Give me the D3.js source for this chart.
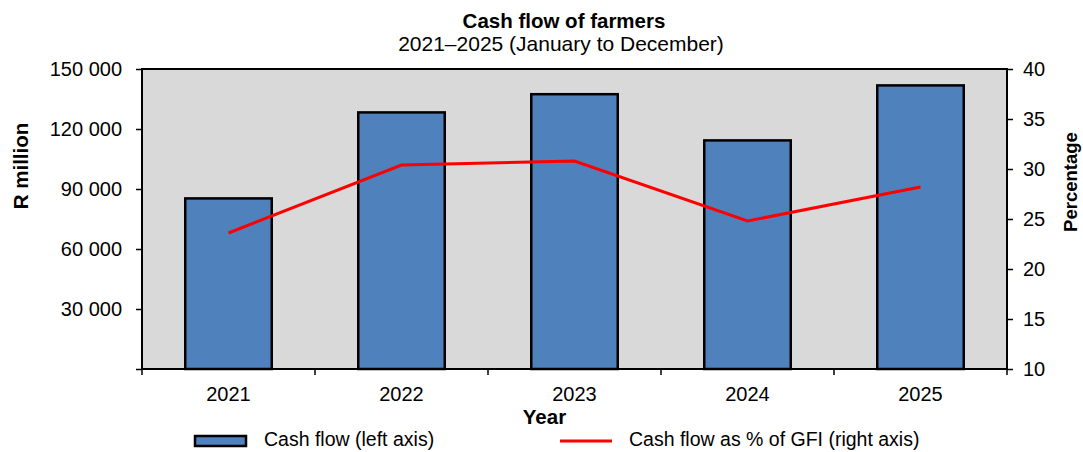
<!DOCTYPE html>
<html><head><meta charset="utf-8">
<script src="https://cdn.jsdelivr.net/npm/d3@7"></script>
<style>body{margin:0;background:#fff}svg{font-family:"Liberation Sans",Arial,sans-serif}</style>
</head><body><svg id="c" width="1083" height="452"></svg>
<script>
const years = ["2021","2022","2023","2024","2025"];
const cashFlow = [85300, 128300, 137400, 114300, 141800];
const pctGFI = [23.6, 30.4, 30.8, 24.8, 28.2];
const leftTicks = [0, 30000, 60000, 90000, 120000, 150000];
const rightTicks = [10, 15, 20, 25, 30, 35, 40];
const title = "Cash flow of farmers";
const subtitle = "2021\u20132025 (January to December)";

const svg = d3.select("#c");
const L = 142, R = 1007, T = 69, B = 369;
const x = d3.scaleBand().domain(years).range([L, R]).paddingInner(0.5).paddingOuter(0.25);
const xb = d3.scaleBand().domain(years).range([L, R]);
const yL = d3.scaleLinear().domain([0, 150000]).range([B, T]);
const yR = d3.scaleLinear().domain([10, 40]).range([B, T]);
const fmt = v => v === 0 ? "" : d3.format(",")(v).replace(/,/g, " ");

svg.append("rect").attr("x", L).attr("y", T).attr("width", R - L).attr("height", B - T).attr("fill", "#D9D9D9");

svg.selectAll("rect.bar").data(years).join("rect").attr("class", "bar")
  .attr("x", d => x(d)).attr("width", x.bandwidth())
  .attr("y", (d, i) => yL(cashFlow[i])).attr("height", (d, i) => B - yL(cashFlow[i]))
  .attr("fill", "#4F81BD").attr("stroke", "#000").attr("stroke-width", 2.5);

const line = d3.line().x((d, i) => xb(years[i]) + xb.bandwidth() / 2).y(d => yR(d));
svg.append("path").datum(pctGFI).attr("d", line).attr("fill", "none").attr("stroke", "#FF0000").attr("stroke-width", 3);

svg.append("rect").attr("x", L).attr("y", T).attr("width", R - L).attr("height", B - T).attr("fill", "none").attr("stroke", "#000").attr("stroke-width", 2);

const gl = svg.append("g").attr("transform", `translate(${L},0)`)
  .call(d3.axisLeft(yL).tickValues(leftTicks).tickFormat(fmt).tickSize(6).tickPadding(14));
const gr = svg.append("g").attr("transform", `translate(${R},0)`)
  .call(d3.axisRight(yR).tickValues(rightTicks).tickSize(6).tickPadding(10));
const gx = svg.append("g").attr("transform", `translate(0,${B})`)
  .call(d3.axisBottom(xb).tickSize(0).tickPadding(18));
const bounds = years.map(d => xb(d)).concat([R]);
svg.append("g").selectAll("line").data(bounds).join("line")
  .attr("x1", d => d).attr("x2", d => d).attr("y1", B).attr("y2", B + 6).attr("stroke", "#000").attr("stroke-width", 1.5);
[gl, gr, gx].forEach(g => {
  g.select(".domain").remove();
  g.attr("font-size", null).attr("font-family", null);
  g.selectAll("text").attr("font-size", "20px").attr("fill", "#000");
  g.selectAll("line").attr("stroke", "#000").attr("stroke-width", 1.5);
});

svg.append("text").attr("x", 564).attr("y", 28).attr("text-anchor", "middle").attr("font-size", "20.5px").attr("font-weight", "bold").text(title);
svg.append("text").attr("x", 561).attr("y", 51).attr("text-anchor", "middle").attr("font-size", "21px").text(subtitle);

svg.append("text").attr("transform", "translate(28,166) rotate(-90)").attr("text-anchor", "middle").attr("font-size", "20.5px").attr("font-weight", "bold").text("R million");
svg.append("text").attr("transform", "translate(1077,182) rotate(-90)").attr("text-anchor", "middle").attr("font-size", "18.5px").attr("font-weight", "bold").text("Percentage");
svg.append("text").attr("x", 544.5).attr("y", 424).attr("text-anchor", "middle").attr("font-size", "20.5px").attr("font-weight", "bold").text("Year");

svg.append("rect").attr("x", 195).attr("y", 436).attr("width", 51).attr("height", 10).attr("fill", "#4F81BD").attr("stroke", "#000").attr("stroke-width", 2.5);
svg.append("text").attr("x", 264).attr("y", 446).attr("font-size", "19.5px").text("Cash flow (left axis)");
svg.append("line").attr("x1", 560).attr("x2", 612).attr("y1", 441).attr("y2", 441).attr("stroke", "#FF0000").attr("stroke-width", 3);
svg.append("text").attr("x", 629).attr("y", 446).attr("font-size", "19.5px").text("Cash flow as % of GFI (right axis)");
</script></body></html>
